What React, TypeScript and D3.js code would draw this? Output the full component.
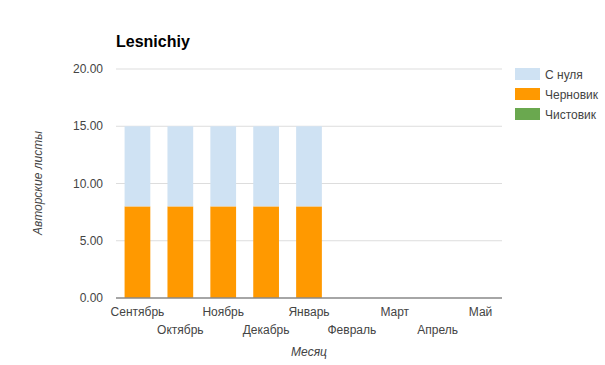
import React from "react";
import * as d3 from "d3";

const months = ["Сентябрь", "Октябрь", "Ноябрь", "Декабрь", "Январь", "Февраль", "Март", "Апрель", "Май"];
const chistovik = [0, 0, 0, 0, 0, 0, 0, 0, 0];
const chernovik = [8, 8, 8, 8, 8, 0, 0, 0, 0];
const sNulya = [7, 7, 7, 7, 7, 0, 0, 0, 0];
const yTicks = [0, 5, 10, 15, 20];
const seriesNames = ["С нуля", "Черновик", "Чистовик"];
const seriesColors = ["#cfe2f3", "#ff9900", "#6aa84f"];

export default function App() {
  const W = 605, H = 365;
  const left = 116, right = 502, top = 69, bottom = 298;
  const x = d3.scaleBand<string>().domain(months).range([left, right]).paddingInner(0.4).paddingOuter(0.2);
  const y = d3.scaleLinear().domain([0, 20]).range([bottom, top]);
  const stackData = months.map((m, i) => ({ m, chistovik: chistovik[i], chernovik: chernovik[i], sNulya: sNulya[i] }));
  const stack = d3.stack<any>().keys(["chistovik", "chernovik", "sNulya"])(stackData);
  const colorByKey: Record<string, string> = { chistovik: seriesColors[2], chernovik: seriesColors[1], sNulya: seriesColors[0] };
  const font = "Arial, 'Liberation Sans', sans-serif";
  return (
    <svg width={W} height={H} style={{ position: "absolute", left: 0, top: 0, fontFamily: font }}>
      <rect width={W} height={H} fill="#fff" />
      <text x={116} y={47} fontSize={16} fontWeight="bold" fill="#000">Lesnichiy</text>
      {yTicks.map(t => (
        <g key={t}>
          {t !== 0 && <line x1={left} x2={right} y1={y(t)} y2={y(t)} stroke="#ddd" strokeWidth={1} />}
          <text x={left - 13} y={y(t) + 4} textAnchor="end" fontSize={12} fill="#444">{t.toFixed(2)}</text>
        </g>
      ))}
      {stack.map(s => (
        <g key={s.key}>
          {s.map((d, i) => d[1] - d[0] > 0 ? (
            <rect key={i} x={x(months[i])} width={x.bandwidth()} y={y(d[1])} height={y(d[0]) - y(d[1])} fill={colorByKey[s.key]} />
          ) : null)}
        </g>
      ))}
      <line x1={left} x2={right} y1={bottom} y2={bottom} stroke="#888" strokeWidth={1.5} />
      {months.map((m, i) => (
        <text key={m} x={(x(m) as number) + x.bandwidth() / 2} y={i % 2 === 0 ? 316 : 334} textAnchor="middle" fontSize={12} fill="#444">{m}</text>
      ))}
      <text x={309} y={356} textAnchor="middle" fontSize={12} fontStyle="italic" fill="#444">Месяц</text>
      <text transform={`translate(42,183) rotate(-90)`} textAnchor="middle" fontSize={12} fontStyle="italic" fill="#444">Авторские листы</text>
      {seriesNames.map((n, i) => (
        <g key={n} transform={`translate(515,${68 + i * 20})`}>
          <rect width={25} height={12} fill={seriesColors[i]} />
          <text x={30} y={10.5} fontSize={12} fill="#444">{n}</text>
        </g>
      ))}
    </svg>
  );
}
